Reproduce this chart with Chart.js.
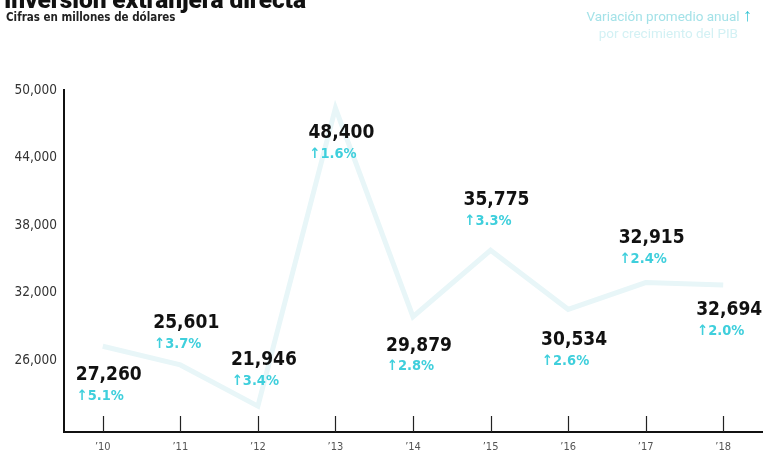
<!DOCTYPE html>
<html>
<head>
<meta charset="utf-8">
<script src="https://cdn.jsdelivr.net/npm/chart.js@4.4.0/dist/chart.umd.min.js"></script>
<style>
  body { margin: 0; background: #fff; }
  #wrap { position: relative; width: 766px; height: 455px; overflow: hidden; }
  #title { position: absolute; left: 4px; top: -15px; line-height: 24px; font: 900 24.5px Roboto, sans-serif; color: #111; white-space: nowrap; letter-spacing: -0.1px; }
  #subtitle { position: absolute; left: 6px; top: 10px; line-height: 14px; font: bold 11.5px 'DejaVu Sans Condensed', Roboto, sans-serif; color: #222; white-space: nowrap; }
  #legend { position: absolute; right: 14px; top: 6px; text-align: right; font: 13.5px Roboto, sans-serif; line-height: 17px; color: #a4e2e8; }
  #legend b { color: #35c4d3; font-size: 18px; }
  #legend .l2 { color: #d3f1f4; margin-right: 14px; }
  canvas { position: absolute; left: 0; top: 0; }
</style>
</head>
<body>
<div id="wrap">
  <canvas id="myChart" width="766" height="455"></canvas>
  <div id="title">Inversión extranjera directa</div>
  <div id="subtitle">Cifras en millones de dólares</div>
  <div id="legend">Variación promedio anual <b>↑</b><br><span class="l2">por crecimiento del PIB</span></div>
</div>
<script>
// Chart data
const years = ['’10', '’11', '’12', '’13', '’14', '’15', '’16', '’17', '’18'];
const fdi = [27260, 25601, 21946, 48400, 29879, 35775, 30534, 32915, 32694];
const gdpGrowth = [5.1, 3.7, 3.4, 1.6, 2.8, 3.3, 2.6, 2.4, 2.0];
const yTicks = [26000, 32000, 38000, 44000, 50000];

// label placement, in pixels from each point
const labelDy = [29, -42, -46, 25, 29, -50, 31, -44, 25];
const labelDx = -27;

const condensed = "'DejaVu Sans Condensed', Roboto, sans-serif";

// small tick marks standing up from the x axis
const tickMarks = {
    id: 'tickMarks',
    afterDraw(chart) {
        const ctx = chart.ctx;
        const x = chart.scales.x;
        const bottom = chart.chartArea.bottom;
        ctx.save();
        ctx.strokeStyle = '#222';
        ctx.lineWidth = 1.2;
        for (let i = 0; i < years.length; i++) {
            const px = Math.round(x.getPixelForValue(i)) + 0.5;
            ctx.beginPath();
            ctx.moveTo(px, bottom - 16);
            ctx.lineTo(px, bottom);
            ctx.stroke();
        }
        ctx.restore();
    }
};

// value + growth labels next to each point
const valueLabels = {
    id: 'valueLabels',
    afterDatasetsDraw(chart) {
        const ctx = chart.ctx;
        const meta = chart.getDatasetMeta(0);
        ctx.save();
        ctx.textAlign = 'left';
        ctx.textBaseline = 'middle';
        meta.data.forEach(function (pt, i) {
            const lx = pt.x + labelDx;
            const ly = pt.y + labelDy[i];
            ctx.fillStyle = '#111';
            ctx.font = 'bold 19px ' + condensed;
            ctx.fillText(fdi[i].toLocaleString('en-US'), lx, ly);
            ctx.fillStyle = '#3fcfdc';
            ctx.font = 'bold 14.5px ' + condensed;
            ctx.fillText('↑' + gdpGrowth[i].toFixed(1) + '%', lx + 1, ly + 21);
        });
        ctx.restore();
    }
};

document.addEventListener('DOMContentLoaded', function () {
    createChart();
});

function createChart() {
    const ctx = document.getElementById('myChart').getContext('2d');
    new Chart(ctx, {
        type: 'line',
        data: {
            labels: years,
            datasets: [{
                label: 'Inversión extranjera directa',
                data: fdi,
                borderColor: '#e8f6f8',
                borderWidth: 5,
                pointRadius: 0,
                tension: 0
            }]
        },
        options: {
            responsive: false,
            animation: false,
            layout: { padding: { top: 90, right: 4, left: 0, bottom: 0 } },
            plugins: {
                legend: { display: false },
                tooltip: { enabled: false }
            },
            scales: {
                x: {
                    offset: true,
                    grid: { display: false, drawTicks: false },
                    border: { display: true, color: '#111', width: 2 },
                    ticks: { color: '#555', padding: 9, font: { size: 11, family: condensed } },
                    afterFit: function (s) { s.height = 23; }
                },
                y: {
                    min: 19650,
                    max: 50000,
                    afterBuildTicks: function (s) { s.ticks = yTicks.map(v => ({ value: v })); },
                    grid: { display: false, drawTicks: false },
                    border: { display: true, color: '#111', width: 2 },
                    ticks: {
                        color: '#333',
                        padding: 7,
                        font: { size: 13.5, family: condensed },
                        callback: v => v.toLocaleString('en-US')
                    },
                    afterFit: function (s) { s.width = 64; }
                }
            }
        },
        plugins: [tickMarks, valueLabels]
    });
}
</script>
</body>
</html>
